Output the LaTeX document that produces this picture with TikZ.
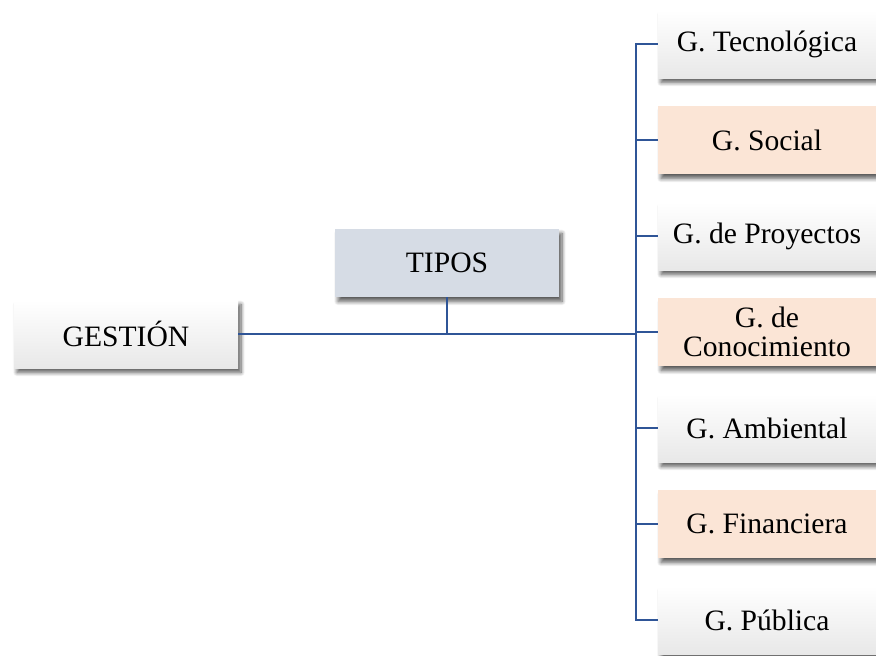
\documentclass[tikz,border=0pt]{standalone}
\usepackage{fontspec}
\setmainfont{Liberation Serif}
\usetikzlibrary{shadows.blur}
\definecolor{linec}{HTML}{2F5597}
\definecolor{peach}{HTML}{FBE5D6}
\definecolor{tiposc}{HTML}{D6DCE5}
\tikzset{
  box/.style={draw=none, minimum height=34pt, inner sep=0pt, align=center,
    font=\fontsize{14.8}{14.8}\selectfont,
    blur shadow={shadow xshift=1.5pt, shadow yshift=-2.2pt, shadow blur steps=8, shadow blur radius=2pt, shadow opacity=65}},
  whitebox/.style={box, top color=white, bottom color=black!9},
  peachbox/.style={box, fill=peach},
  tiposbox/.style={box, fill=tiposc},
  leftw/.style={minimum width=112pt},
  rightw/.style={minimum width=109pt},
  conn/.style={draw=linec, line width=1.2pt}
}
\begin{document}
\begin{tikzpicture}[x=0.5pt, y=-0.5pt]
\useasboundingbox (0,0) rectangle (876,655);
\node[whitebox, leftw] (g) at (126,334) {GESTIÓN};
\node[tiposbox, leftw] (t) at (447,263) {TIPOS};
\node[whitebox, rightw] (r1) at (767,44) {G. Tecnológica};
\node[peachbox, rightw] (r2) at (767,140) {G. Social};
\node[whitebox, rightw] (r3) at (767,236) {G. de Proyectos};
\node[peachbox, rightw] (r4) at (767,332) {G. de\\Conocimiento};
\node[whitebox, rightw] (r5) at (767,428) {G. Ambiental};
\node[peachbox, rightw] (r6) at (767,524) {G. Financiera};
\node[whitebox, rightw] (r7) at (767,620) {G. Pública};
\coordinate (bm) at (636,334);
\draw[conn] (g.east) -- (bm);
\draw[conn] (t.south) -- (t.south |- g.east);
\draw[conn] (r1.west) -- (r1.west -| bm) -- (r7.west -| bm) -- (r7.west);
\draw[conn] (r2.west) -- (r2.west -| bm);
\draw[conn] (r3.west) -- (r3.west -| bm);
\draw[conn] (r4.west) -- (r4.west -| bm);
\draw[conn] (r5.west) -- (r5.west -| bm);
\draw[conn] (r6.west) -- (r6.west -| bm);
\end{tikzpicture}
\end{document}
